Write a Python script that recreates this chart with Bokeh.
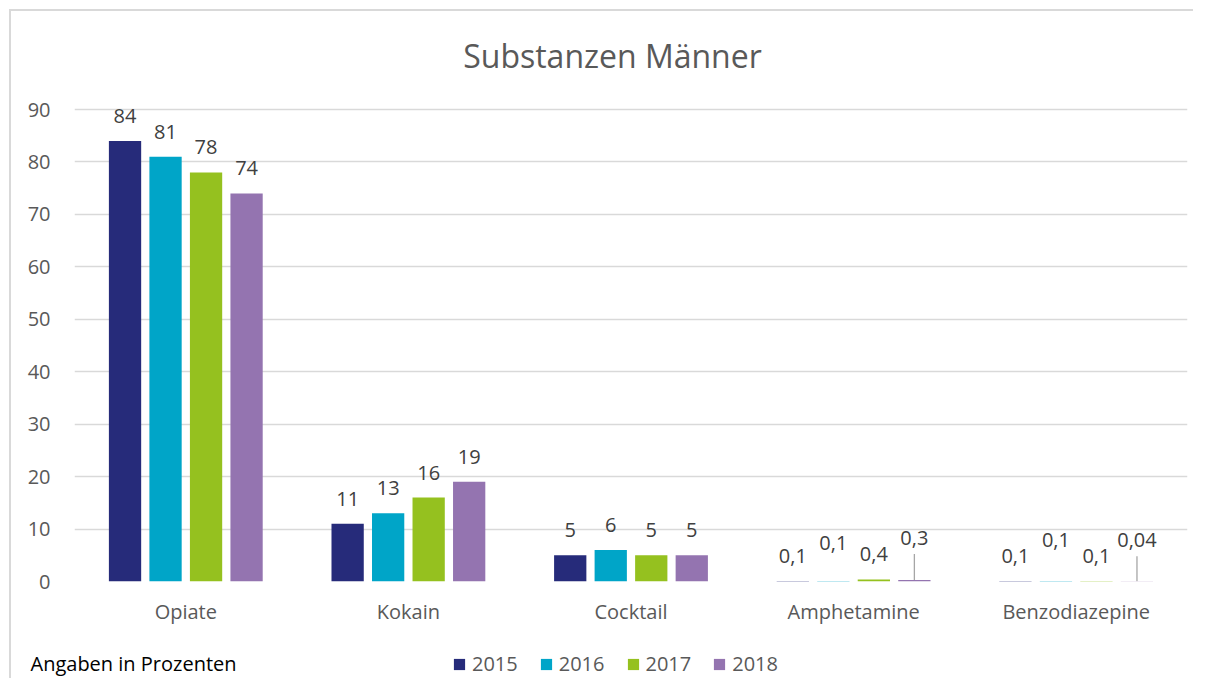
from bokeh.plotting import figure
from bokeh.layouts import column
from bokeh.models import (FactorRange, Range1d, ColumnDataSource, Legend, LegendItem,
                          Label, FixedTicker)
from bokeh.transform import dodge
from bokeh.embed import file_html
from bokeh.resources import INLINE
from bokeh.core.properties import value

# ---------------- data ----------------
categories = ["Opiate", "Kokain", "Cocktail", "Amphetamine", "Benzodiazepine"]
years = ["2015", "2016", "2017", "2018"]
v2015 = [84, 11, 5, 0.1, 0.1]
v2016 = [81, 13, 6, 0.1, 0.1]
v2017 = [78, 16, 5, 0.4, 0.1]
v2018 = [74, 19, 5, 0.3, 0.04]
y_ticks = [0, 10, 20, 30, 40, 50, 60, 70, 80, 90]
title_text = "Substanzen Männer"
note_text = "Angaben in Prozenten"

# ---------------- style ----------------
colors = ["#262B7A", "#00A5C8", "#95C11F", "#9474B0"]
# extra upward shift (px) of individual data labels, as placed in the original
label_extra = [
    [0, 0, 0, 0, 0],
    [0, 0, 0, 13, 16],
    [0, 0, 0, 0, 0],
    [0, 0, 0, 17, 16],
]
leader = [
    [False] * 5,
    [False] * 5,
    [False] * 5,
    [False, False, False, True, True],
]
offsets = [-0.273, -0.091, 0.091, 0.273]
bar_w = 0.145
FONT = "Open Sans"
GREY = "#595959"
ORG = 11                         # page offset of content (margin + border)
W = 1182
H0 = 70                          # title strip height
Y90_PAGE, Y0_PAGE = 109, 581     # page rows of the 90 and 0 gridlines
FRAME_TOP_PAGE = 93              # a bit of headroom above the 90 line for labels
FL, FR = 74 - ORG, 6
FT = FRAME_TOP_PAGE - ORG - H0
FRAME_BOTTOM = Y0_PAGE - ORG - H0
HP = 618 - H0
FB = HP - FRAME_BOTTOM
H2 = 678 - ORG - H0 - HP
px_per_unit = (Y0_PAGE - Y90_PAGE) / 90.0
y_max = (Y0_PAGE - FRAME_TOP_PAGE) / px_per_unit
base_off = 25

def fmt(v):
    if float(v).is_integer():
        return str(int(v))
    return str(v).replace(".", ",")

# ---------- title strip ----------
p0 = figure(width=W, height=H0, x_range=Range1d(0, W), y_range=Range1d(0, H0),
            x_axis_type=None, y_axis_type=None, output_backend="svg",
            toolbar_location=None, min_border=0, frame_align=False)
p0.outline_line_color = None
p0.grid.visible = False
p0.add_layout(Label(x=612 - ORG, y=H0 - (55 - ORG), x_units="screen", y_units="screen",
                    text=title_text, text_align="center", text_baseline="middle",
                    text_font=FONT, text_font_size="32px", text_color=GREY))

# ---------- main chart ----------
p = figure(x_range=FactorRange(factors=categories, range_padding=0),
           y_range=Range1d(0, y_max),
           width=W, height=HP, output_backend="svg", toolbar_location=None,
           min_border_left=FL, min_border_right=FR, min_border_top=FT,
           min_border_bottom=FB, frame_align=False)
p.outline_line_color = None
p.background_fill_color = "white"
p.border_fill_color = "white"

series = [v2015, v2016, v2017, v2018]
for i, (yr, vals) in enumerate(zip(years, series)):
    src = ColumnDataSource(dict(
        cat=categories, val=vals,
        lbl=[fmt(v) for v in vals],
        yoff=[-(base_off + e) for e in label_extra[i]],
    ))
    p.vbar(x=dodge("cat", offsets[i], range=p.x_range), top="val", width=bar_w,
           source=src, fill_color=colors[i], line_color=None)
    p.text(x=dodge("cat", offsets[i], range=p.x_range), y="val", text="lbl",
           y_offset="yoff", source=src, text_align="center", text_baseline="middle",
           text_font=value(FONT), text_font_size="20px", text_color="#404040")
    lx, ly0, ly1 = [], [], []
    for j, v in enumerate(vals):
        if leader[i][j]:
            lx.append(categories[j])
            ly0.append(v)
            ly1.append(v + (base_off + label_extra[i][j] - 16) / px_per_unit)
    if lx:
        lsrc = ColumnDataSource(dict(x=lx, y0=ly0, y1=ly1))
        p.segment(x0=dodge("x", offsets[i], range=p.x_range), y0="y0",
                  x1=dodge("x", offsets[i], range=p.x_range), y1="y1",
                  source=lsrc, line_color="#A6A6A6", line_width=1.3)

p.xgrid.grid_line_color = None
p.ygrid.grid_line_color = "#D9D9D9"
p.ygrid.grid_line_width = 1.5
p.yaxis.ticker = FixedTicker(ticks=y_ticks)
for ax in (p.xaxis[0], p.yaxis[0]):
    ax.axis_line_color = None
    ax.major_tick_line_color = None
    ax.minor_tick_line_color = None
    ax.major_label_text_font = FONT
    ax.major_label_text_font_size = "20px"
    ax.major_label_text_color = GREY
p.yaxis.major_label_standoff = 18
p.xaxis.major_label_standoff = 10

# ---------- bottom strip: note + legend ----------
p2 = figure(width=W, height=H2, x_range=Range1d(0, W), y_range=Range1d(0, H2),
            x_axis_type=None, y_axis_type=None, output_backend="svg",
            toolbar_location=None, min_border=0, frame_align=False)
p2.outline_line_color = None
p2.grid.visible = False
items = []
for yr, c in zip(years, colors):
    r = p2.quad(left=[-20], right=[-10], bottom=[-20], top=[-10],
                fill_color=c, line_color=None)
    items.append(LegendItem(label=yr, renderers=[r]))
legend_mid = H2 - (663 - ORG - H0 - HP)
legend = Legend(items=items, orientation="horizontal",
                location=(455 - ORG - 3, legend_mid - 14),
                glyph_width=14, glyph_height=14, label_standoff=6, spacing=21,
                padding=0, margin=0, border_line_color=None, background_fill_alpha=0,
                label_text_font=FONT, label_text_font_size="20px", label_text_color=GREY)
p2.add_layout(legend)
p2.add_layout(Label(x=30 - ORG, y=legend_mid, x_units="screen", y_units="screen",
                    text=note_text, text_align="left", text_baseline="middle",
                    text_font=FONT, text_font_size="20px", text_color="#000000"))

layout = column(p0, p, p2, spacing=0,
                styles={"margin-left": "9px", "margin-top": "9px",
                        "border-left": "2px solid #D9D9D9",
                        "border-top": "2px solid #D9D9D9"})

open("out.html", "w").write(file_html(layout, INLINE))
